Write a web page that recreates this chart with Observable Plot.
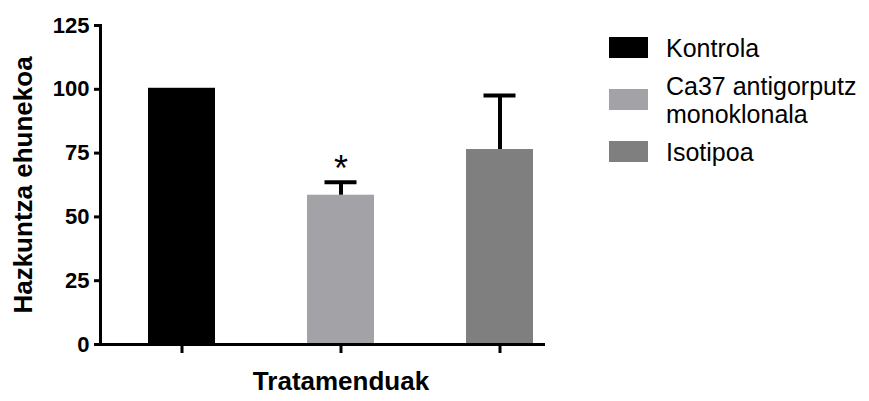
<!DOCTYPE html>
<html>
<head>
<meta charset="utf-8">
<script src="https://cdn.jsdelivr.net/npm/d3@7"></script>
<script src="https://cdn.jsdelivr.net/npm/@observablehq/plot@0.6"></script>
<style>
  html, body { margin: 0; padding: 0; background: #fff; }
  #wrap { position: relative; width: 869px; height: 401px; font-family: "Liberation Sans", Arial, Helvetica, sans-serif; }
  #legend { position: absolute; left: 0; top: 0; }
</style>
</head>
<body>
<div id="wrap"></div>
<script>
// ---- data ----
const categories = ["Kontrola", "Ca37 antigorputz monoklonala", "Isotipoa"];
const legendLines = [["Kontrola"], ["Ca37 antigorputz", "monoklonala"], ["Isotipoa"]];
const means = [100.4, 58.5, 76.4];
const errHigh = [null, 63.6, 97.6];
const significance = ["", "*", ""];
const colors = ["#000000", "#a2a2a7", "#7f7f7f"];
const yTicks = [0, 25, 50, 75, 100, 125];
const xTitle = "Tratamenduak";
const yTitle = "Hazkuntza ehunekoa";

const data = categories.map((c, i) => ({cat: c, value: means[i], hi: errHigh[i], sig: significance[i]}));
const errData = data.filter(d => d.hi != null);
const sigData = data.filter(d => d.sig);

const font = '"Liberation Sans", Arial, Helvetica, sans-serif';

const chart = Plot.plot({
  width: 869,
  height: 401,
  marginLeft: 100,
  marginRight: 324,
  marginTop: 25,
  marginBottom: 57,
  style: {fontFamily: font, background: "white", color: "black", overflow: "visible"},
  x: {domain: categories, range: [147.5, 532.5], paddingInner: 0.579, paddingOuter: 0},
  y: {domain: [0, 125]},
  color: {domain: categories, range: colors},
  marks: [
    Plot.barY(data, {x: "cat", y: "value", fill: "cat"}),
    Plot.ruleX(errData, {x: "cat", y1: "value", y2: "hi", stroke: "black", strokeWidth: 4}),
    Plot.tickY(errData, {x: "cat", y: "hi", stroke: "black", strokeWidth: 4, insetLeft: 17.5, insetRight: 17.5}),
    Plot.text(sigData, {x: "cat", y: "hi", text: "sig", fontSize: 36, dy: -13, fill: "black"}),
    Plot.axisY({ticks: yTicks, tickSize: 6, tickPadding: 5, strokeWidth: 3, fontSize: 22, fontWeight: "bold", label: null}),
    Plot.axisX({tickSize: 9, strokeWidth: 3, tickFormat: () => "", label: null}),
    Plot.frame({anchor: "left", strokeWidth: 3}),
    Plot.ruleY([0], {insetLeft: -6, strokeWidth: 3}),
    Plot.text([yTitle], {text: d => d, frameAnchor: "left", textAnchor: "middle", rotate: -90, dx: -77, fontSize: 26, fontWeight: "bold", fill: "black"}),
    Plot.text([xTitle], {text: d => d, frameAnchor: "bottom", textAnchor: "middle", dy: 45, dx: 18, fontSize: 26, fontWeight: "bold", fill: "black"})
  ]
});
document.getElementById("wrap").appendChild(chart);

// ---- legend ----
const lg = d3.select("#wrap").append("svg")
  .attr("id", "legend").attr("width", 869).attr("height", 401)
  .style("font-family", font);
const rowCenters = [47.5, 99.5, 151.5];
const lineH = 28;
legendLines.forEach((lines, i) => {
  const cy = rowCenters[i];
  lg.append("rect").attr("x", 609).attr("y", cy - 10.5).attr("width", 39).attr("height", 21).attr("fill", colors[i]);
  const t = lg.append("text").attr("x", 666).attr("font-size", 25).attr("fill", "black");
  const first = cy + 9 - (lines.length - 1) * lineH / 2;
  lines.forEach((s, j) => {
    t.append("tspan").attr("x", 666).attr("y", first + j * lineH).text(s);
  });
});
</script>
</body>
</html>
